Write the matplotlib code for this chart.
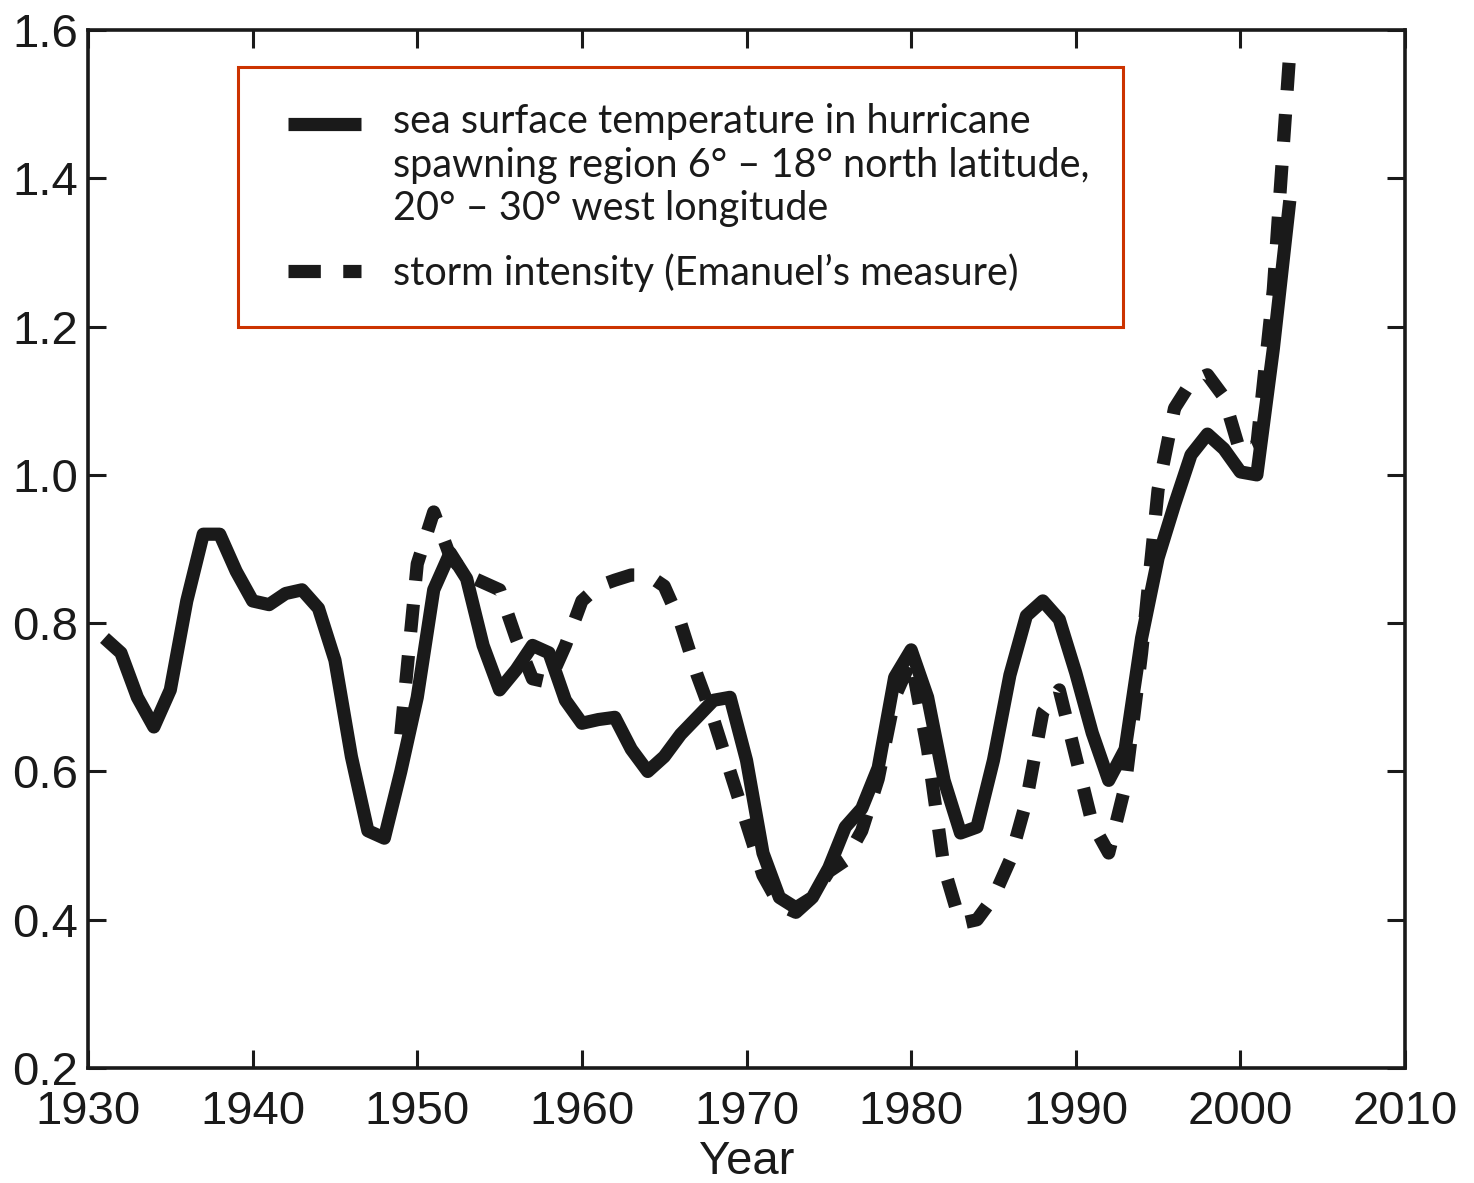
import numpy as np
import matplotlib
matplotlib.use("Agg")
import matplotlib.pyplot as plt
from matplotlib.lines import Line2D
from matplotlib.legend_handler import HandlerLine2D

# sea surface temperature (solid line), one value per year
sst_years = list(range(1931, 2004))
sst_values = [0.78, 0.76, 0.70, 0.66, 0.71, 0.83, 0.92, 0.92, 0.87, 0.83,
              0.825, 0.84, 0.845, 0.82, 0.75, 0.62, 0.52, 0.51, 0.60, 0.70,
              0.845, 0.895, 0.86, 0.77, 0.71, 0.737, 0.77, 0.76, 0.696, 0.665,
              0.67, 0.673, 0.63, 0.60, 0.62, 0.65, 0.673, 0.696, 0.70, 0.615,
              0.49, 0.43, 0.416, 0.43, 0.47, 0.525, 0.55, 0.605, 0.727, 0.764,
              0.70, 0.588, 0.517, 0.525, 0.615, 0.73, 0.81, 0.83, 0.805, 0.733,
              0.652, 0.588, 0.63, 0.78, 0.888, 0.96, 1.027, 1.055, 1.035, 1.004,
              1.0, 1.17, 1.37]

# storm intensity (dashed line)
storm_years = list(range(1949, 2004))
storm_values = [0.65, 0.88, 0.95, 0.89, 0.865, 0.855, 0.845, 0.78, 0.725, 0.72,
                0.77, 0.83, 0.85, 0.858, 0.865, 0.865, 0.85, 0.80, 0.73, 0.67,
                0.60, 0.53, 0.46, 0.42, 0.41, 0.43, 0.465, 0.48, 0.52, 0.59,
                0.70, 0.75, 0.63, 0.47, 0.395, 0.40, 0.43, 0.48, 0.56, 0.68,
                0.71, 0.62, 0.53, 0.49, 0.58, 0.76, 0.98, 1.09, 1.125, 1.135,
                1.105, 1.03, 1.04, 1.25, 1.57]

x_ticks = list(range(1930, 2011, 10))
y_ticks = [0.2, 0.4, 0.6, 0.8, 1.0, 1.2, 1.4, 1.6]

sst_label = ("sea surface temperature in hurricane\n"
             "spawning region 6\u00b0 \u2013 18\u00b0 north latitude,\n"
             "20\u00b0 \u2013 30\u00b0 west longitude")
storm_label = "storm intensity (Emanuel\u2019s measure)"

ink = "#1a1a1a"
frame_red = "#cc3300"
lw = 9.5


class FirstLineHandler(HandlerLine2D):
    """Draw the legend line next to the first line of a multi-line label."""
    def __init__(self, lift=0.0, **kw):
        super().__init__(**kw)
        self.lift = lift

    def create_artists(self, legend, orig_handle, xdescent, ydescent,
                       width, height, fontsize, trans):
        arts = super().create_artists(legend, orig_handle, xdescent, ydescent,
                                      width, height, fontsize, trans)
        for a in arts:
            a.set_ydata(np.asarray(a.get_ydata()) + self.lift * fontsize)
        return arts


plt.rcParams['font.family'] = ['Liberation Sans', 'DejaVu Sans']

fig = plt.figure(figsize=(14.74, 11.83), dpi=100)
ax = fig.add_axes([0.0597, 0.0972, 0.8935, 0.8774])

ax.plot(sst_years, sst_values, color=ink, lw=lw, solid_capstyle='butt',
        solid_joinstyle='round')
storm_line, = ax.plot(storm_years, storm_values, color=ink, lw=lw,
                      dash_capstyle='butt')
storm_line.set_dashes((2.1, 1.8))

ax.set_xlim(1930, 2010)
ax.set_ylim(0.2, 1.6)
ax.set_xticks(x_ticks)
ax.set_yticks(y_ticks)
ax.set_yticklabels([f"{v:.1f}" for v in y_ticks])
ax.tick_params(direction='in', length=13, width=2.2, top=True, right=True,
               labelsize=34, colors=ink)
ax.tick_params(axis='x', pad=16)
ax.tick_params(axis='y', pad=7)
for s in ax.spines.values():
    s.set_linewidth(2.6)
    s.set_color(ink)
ax.set_xlabel("Year", fontsize=34, color=ink, labelpad=4)

# legend
h_sst = Line2D([], [], color=ink, lw=lw, solid_capstyle='butt')
h_storm = Line2D([], [], color=ink, lw=lw, dash_capstyle='butt')
h_storm.set_dashes((2.45, 1.7))
leg = ax.legend([h_sst, h_storm], [sst_label, storm_label],
                loc='upper left', bbox_to_anchor=(0.114, 0.718, 0.672, 0.246),
                mode='expand', borderaxespad=0, borderpad=0.9,
                handlelength=2.2, handletextpad=0.82, labelspacing=0.65,
                fancybox=False, framealpha=1,
                prop={'family': ['Lato', 'DejaVu Sans'], 'size': 28.5},
                handler_map={h_sst: FirstLineHandler(lift=1.06, xpad=0.35),
                             h_storm: FirstLineHandler(lift=0.0, xpad=0.35)})
leg.get_frame().set_edgecolor(frame_red)
leg.get_frame().set_linewidth(2.2)
for t in leg.get_texts():
    t.set_color(ink)
    t.set_linespacing(1.22)

fig.savefig("out.png", dpi=100)
